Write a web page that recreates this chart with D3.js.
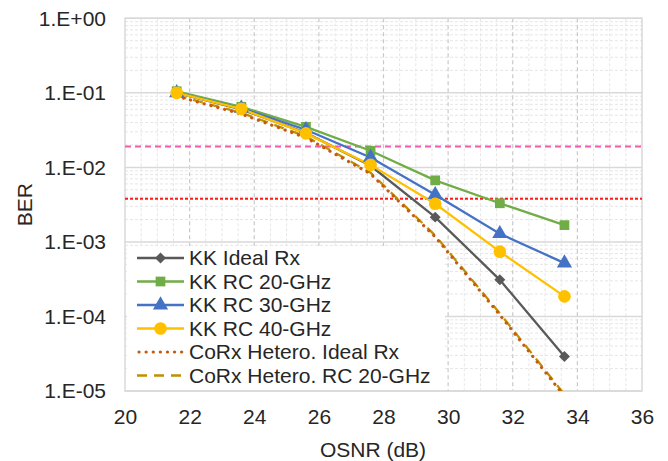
<!DOCTYPE html>
<html>
<head>
<meta charset="utf-8">
<script src="https://cdn.jsdelivr.net/npm/d3@7"></script>
<style>
  body { margin: 0; background: #fff; }
  svg { display: block; font-family: "Liberation Sans", Arial, sans-serif; }
</style>
</head>
<body>
<svg id="chart" width="668" height="461"></svg>
<script>
// OSNR values (dB) where every series was measured
const osnr = [21.6, 23.6, 25.6, 27.6, 29.6, 31.6, 33.6];

// BER per series
const kkIdeal = [0.1, 0.06, 0.029, 0.0105, 0.00215, 0.00031, 0.000029];
const kkRc20 = [0.105, 0.065, 0.035, 0.0167, 0.0067, 0.0033, 0.00168];
const kkRc30 = [0.1, 0.062, 0.032, 0.0136, 0.0043, 0.00129, 0.00052];
const kkRc40 = [0.1, 0.061, 0.0286, 0.0108, 0.00325, 0.00074, 0.000186];
const coIdeal = [0.09, 0.052, 0.025, 0.0082, 0.00117, 0.000105, 0.0000085];
const coRc20 = [0.092, 0.054, 0.026, 0.0085, 0.00122, 0.00011, 0.000009];

// FEC thresholds (horizontal reference lines)
const fecLimits = [0.019, 0.0038];

// Axis ticks
const xTicks = [20, 22, 24, 26, 28, 30, 32, 34, 36];
const yTicks = [1, 1e-1, 1e-2, 1e-3, 1e-4, 1e-5];

const dotted = "0.1 7";
const series = [
  { name: "KK Ideal Rx", values: kkIdeal, color: "#595959", marker: "diamond" },
  { name: "KK RC 20-GHz", values: kkRc20, color: "#70AD47", marker: "square" },
  { name: "KK RC 30-GHz", values: kkRc30, color: "#4472C4", marker: "triangle" },
  { name: "KK RC 40-GHz", values: kkRc40, color: "#FFC000", marker: "circle" },
  { name: "CoRx Hetero. Ideal Rx", values: coIdeal, color: "#C55A11", dash: dotted },
  { name: "CoRx Hetero. RC 20-GHz", values: coRc20, color: "#BF9000", dash: "10 7" },
];

const svg = d3.select("#chart");

// Plot area
const plotLeft = 125, plotRight = 642, plotTop = 18.3, plotBottom = 391;

const x = d3.scaleLinear().domain([20, 36]).range([plotLeft, plotRight]);
const y = d3.scaleLog().domain([1e-5, 1]).range([plotBottom, plotTop]);

// Clip lines to the plot area
svg.append("clipPath").attr("id", "plot")
  .append("rect")
  .attr("x", plotLeft).attr("y", plotTop)
  .attr("width", plotRight - plotLeft).attr("height", plotBottom - plotTop);

const grid = svg.append("g");

// Minor vertical gridlines every 0.5 dB
grid.selectAll(".vminor")
  .data(d3.range(20.5, 36, 0.5).filter((d) => d % 2 !== 0))
  .join("line")
  .attr("x1", (d) => x(d)).attr("x2", (d) => x(d))
  .attr("y1", plotTop).attr("y2", plotBottom)
  .attr("stroke", "#E6E6E6").attr("stroke-dasharray", "3 2");

// Minor horizontal gridlines (2..9 in every decade)
const minorY = [];
for (let e = -5; e < 0; e++) {
  for (let m = 2; m <= 9; m++) minorY.push(m * Math.pow(10, e));
}
grid.selectAll(".hminor")
  .data(minorY)
  .join("line")
  .attr("x1", plotLeft).attr("x2", plotRight)
  .attr("y1", (d) => y(d)).attr("y2", (d) => y(d))
  .attr("stroke", "#E6E6E6").attr("stroke-dasharray", "3 2");

// Major vertical gridlines (dashed)
grid.selectAll(".vmajor")
  .data(xTicks.slice(1, -1))
  .join("line")
  .attr("x1", (d) => x(d)).attr("x2", (d) => x(d))
  .attr("y1", plotTop).attr("y2", plotBottom)
  .attr("stroke", "#C9C9C9").attr("stroke-width", 1.2)
  .attr("stroke-dasharray", "4 3");

// Major horizontal gridlines (solid, one per decade)
grid.selectAll(".hmajor")
  .data(yTicks)
  .join("line")
  .attr("x1", plotLeft).attr("x2", plotRight)
  .attr("y1", (d) => y(d)).attr("y2", (d) => y(d))
  .attr("stroke", "#D9D9D9").attr("stroke-width", 1.5);

// Plot border
grid.append("rect")
  .attr("x", plotLeft).attr("y", plotTop)
  .attr("width", plotRight - plotLeft).attr("height", plotBottom - plotTop)
  .attr("fill", "none").attr("stroke", "#D9D9D9").attr("stroke-width", 1.5);

// FEC threshold lines
svg.selectAll(".fec")
  .data(fecLimits)
  .join("line")
  .attr("x1", plotLeft).attr("x2", plotRight)
  .attr("y1", (d) => y(d)).attr("y2", (d) => y(d))
  .attr("stroke", (d, i) => (i === 0 ? "#F45AAE" : "#FF1A1A"))
  .attr("stroke-width", 2)
  .attr("stroke-dasharray", (d, i) => (i === 0 ? "6 4" : "3 2"));

// Axes
const fmt = (d) => {
  const e = Math.round(Math.log10(d));
  return "1.E" + (e >= 0 ? "+" : "-") + String(Math.abs(e)).padStart(2, "0");
};

const yAxis = svg.append("g")
  .attr("transform", `translate(${plotLeft},0)`)
  .call(d3.axisLeft(y).tickValues(yTicks).tickFormat(fmt).tickSize(0).tickPadding(19));

const xAxis = svg.append("g")
  .attr("transform", `translate(0,${plotBottom})`)
  .call(d3.axisBottom(x).tickValues(xTicks).tickFormat(d3.format("d")).tickSize(0).tickPadding(18));

for (const ax of [xAxis, yAxis]) {
  ax.select(".domain").remove();
  ax.selectAll("text")
    .attr("font-family", "Liberation Sans, Arial, sans-serif")
    .attr("font-size", 21)
    .attr("fill", "#262626");
}

svg.append("text")
  .attr("x", 373).attr("y", 457)
  .attr("text-anchor", "middle")
  .attr("font-size", 21).attr("fill", "#262626")
  .text("OSNR (dB)");

svg.append("text")
  .attr("transform", `translate(32,${(plotTop + plotBottom) / 2}) rotate(-90)`)
  .attr("text-anchor", "middle")
  .attr("font-size", 21).attr("fill", "#262626")
  .text("BER");

// Marker shapes
const symbols = {
  diamond: d3.symbol(d3.symbolSquare, 60),
  square: d3.symbol(d3.symbolSquare, 95),
  triangle: d3.symbol(d3.symbolTriangle, 100),
  circle: d3.symbol(d3.symbolCircle, 125),
};

function drawMarker(g, s, cx, cy) {
  if (!s.marker) return;
  g.append("path")
    .attr("d", symbols[s.marker]())
    .attr("transform", `translate(${cx},${cy})` + (s.marker === "diamond" ? " rotate(45)" : ""))
    .attr("fill", s.color);
}

function styleLine(sel, s) {
  return sel
    .attr("fill", "none")
    .attr("stroke", s.color)
    .attr("stroke-width", s.dash === dotted ? 3.2 : 2.3)
    .attr("stroke-linecap", s.dash === dotted ? "round" : "butt")
    .attr("stroke-dasharray", s.dash || null);
}

const line = d3.line()
  .x((d, i) => x(osnr[i]))
  .y((d) => y(d));

// White legend box, drawn under the series
const legendTop = 246;
svg.append("rect")
  .attr("x", plotLeft + 2).attr("y", legendTop)
  .attr("width", 318).attr("height", plotBottom - legendTop - 1)
  .attr("fill", "#fff");

// Series lines (dashed CoRx under dotted so both stay visible)
const plot = svg.append("g").attr("clip-path", "url(#plot)");
const drawOrder = [0, 1, 2, 3, 5, 4];
for (const k of drawOrder) {
  const s = series[k];
  plot.append("path").datum(s.values).attr("d", line).call(styleLine, s);
}
for (const s of series) {
  const g = svg.append("g");
  s.values.forEach((v, i) => drawMarker(g, s, x(osnr[i]), y(v)));
}

// Legend entries
const legend = svg.append("g");
series.forEach((s, i) => {
  const ly = 258 + i * 23.5;
  const g = legend.append("g");
  g.append("line")
    .attr("x1", s.dash === dotted ? 139 : 137).attr("x2", 184)
    .attr("y1", ly).attr("y2", ly)
    .call(styleLine, s);
  drawMarker(g, s, 160.5, ly);
  g.append("text")
    .attr("x", 189).attr("y", ly)
    .attr("dy", "0.35em")
    .attr("font-size", 21).attr("fill", "#262626")
    .text(s.name);
});
</script>
</body>
</html>
